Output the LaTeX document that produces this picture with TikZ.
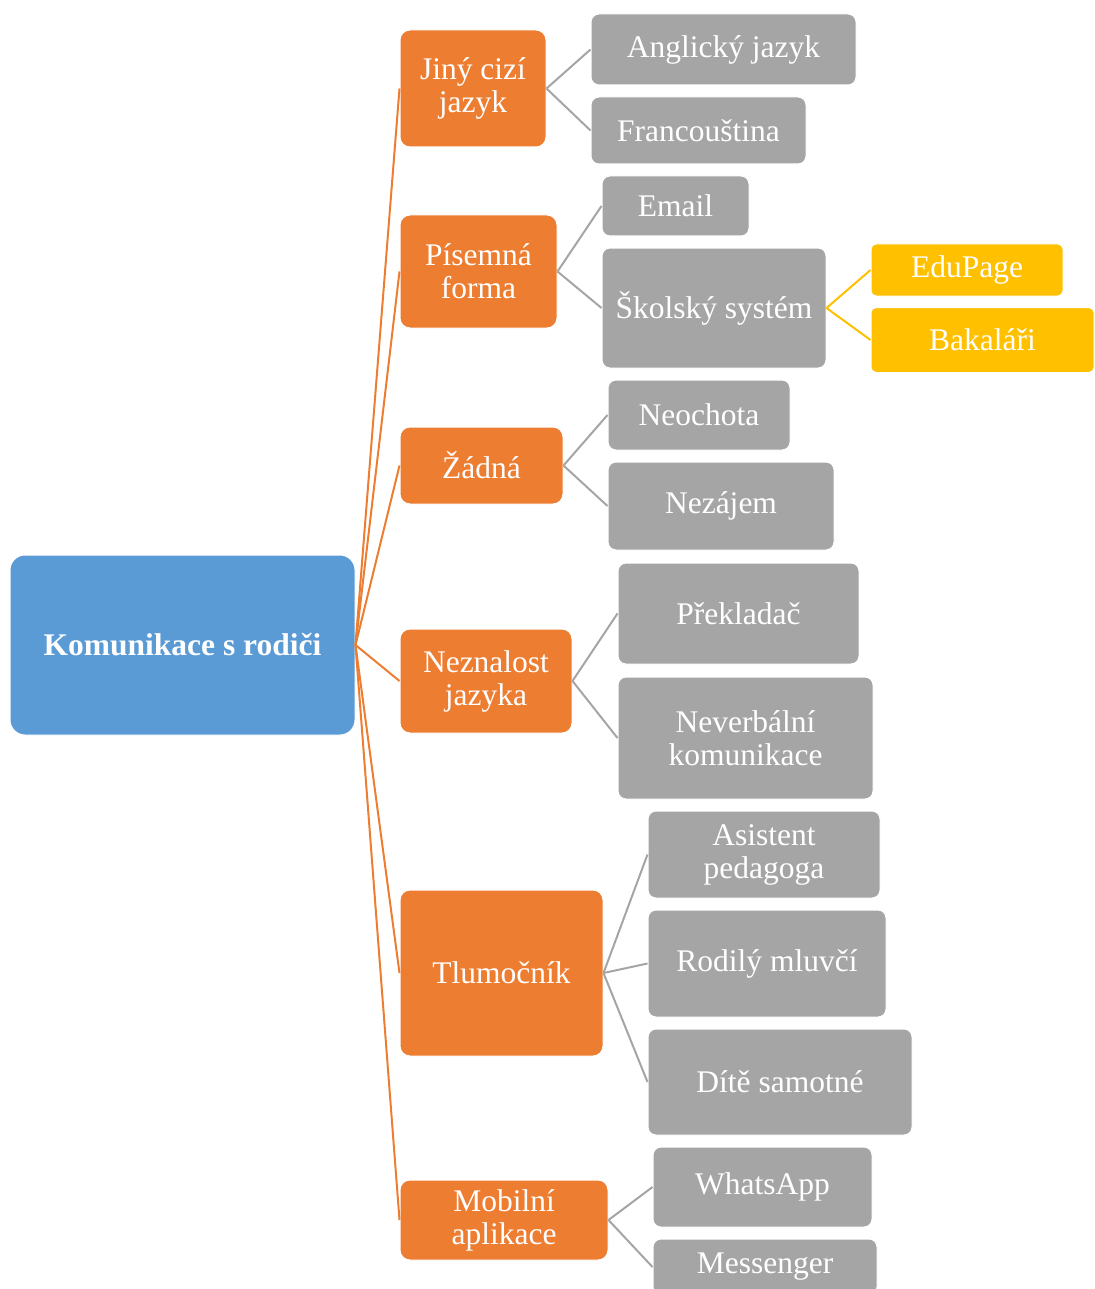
\documentclass[tikz,border=0pt]{standalone}
\usepackage{fontspec}
\setmainfont{Liberation Serif}
\usepackage{tikz}

\definecolor{rootblue}{HTML}{5B9BD5}
\definecolor{catorange}{HTML}{ED7D31}
\definecolor{leafgrey}{HTML}{A5A5A5}
\definecolor{appyellow}{HTML}{FFC000}

\tikzset{
  rootbox/.style={fill=rootblue, draw=white, line width=1pt, rounded corners=15pt, text=white, align=center, inner sep=0pt, font=\fontsize{31.5}{33}\selectfont\bfseries},
  catbox/.style={fill=catorange, draw=white, line width=1pt, rounded corners=10pt, text=white, align=center, inner sep=0pt, font=\fontsize{31.5}{33}\selectfont},
  leafbox/.style={fill=leafgrey, draw=white, line width=1pt, rounded corners=8pt, text=white, align=center, inner sep=0pt, font=\fontsize{31.5}{33}\selectfont},
  appbox/.style={fill=appyellow, draw=white, line width=1pt, rounded corners=5pt, text=white, align=center, inner sep=0pt, font=\fontsize{31.5}{33}\selectfont},
  catline/.style={draw=catorange, line width=2pt},
  leafline/.style={draw=leafgrey, line width=2pt},
  appline/.style={draw=appyellow, line width=2pt}
}

\begin{document}
\begin{tikzpicture}[x=1pt, y=-1pt]
\clip (0,0) rectangle (1094,1289);
\node[rootbox, minimum width=345pt, minimum height=180pt] (root) at (182.5,645) {Komunikace s rodiči};

\node[catbox, minimum width=146pt, minimum height=117pt] (jiny) at (473,88.5) {Jiný cizí\\jazyk};
\node[catbox, minimum width=157pt, minimum height=113pt] (pisemna) at (478.5,271.5) {Písemná\\forma};
\node[catbox, minimum width=163pt, minimum height=77pt] (zadna) at (481.5,465.5) {Žádná};
\node[catbox, minimum width=172pt, minimum height=104pt] (neznalost) at (486,681) {Neznalost\\jazyka};
\node[catbox, minimum width=203pt, minimum height=166pt] (tlumocnik) at (501.5,973) {Tlumočník};
\node[catbox, minimum width=208pt, minimum height=80pt] (mobilni) at (504,1220) {Mobilní\\aplikace};

\node[leafbox, minimum width=265pt, minimum height=71pt] (anglicky) at (723.5,49.5) {Anglický jazyk};
\node[leafbox, minimum width=215pt, minimum height=67pt] (francoustina) at (698.5,130.5) {Francouština};
\node[leafbox, minimum width=147pt, minimum height=60pt] (email) at (675.5,206) {Email};
\node[leafbox, minimum width=224pt, minimum height=120pt] (skolsky) at (714,308) {Školský systém};
\node[appbox, minimum width=192pt, minimum height=52pt] (edupage) at (967,270) {EduPage};
\node[appbox, minimum width=223pt, minimum height=65pt] (bakalari) at (982.5,340) {Bakaláři};
\node[leafbox, minimum width=182pt, minimum height=70pt] (neochota) at (699,415) {Neochota};
\node[leafbox, minimum width=226pt, minimum height=88pt] (nezajem) at (721,506) {Nezájem};
\node[leafbox, minimum width=241pt, minimum height=101pt] (prekladac) at (738.5,613.5) {Překladač};
\node[leafbox, minimum width=255pt, minimum height=122pt] (neverbalni) at (745.5,738) {Neverbální\\komunikace};
\node[leafbox, minimum width=232pt, minimum height=87pt] (asistent) at (764,854.5) {Asistent\\pedagoga};
\node[leafbox, minimum width=238pt, minimum height=107pt] (rodily) at (767,963.5) {Rodilý mluvčí};
\node[leafbox, minimum width=264pt, minimum height=106pt] (dite) at (780,1082) {Dítě samotné};
\node[leafbox, minimum width=219pt, minimum height=80pt] (whatsapp) at (762.5,1187) {WhatsApp};
\node[leafbox, minimum width=224pt, minimum height=56pt] (messenger) at (765,1267) {Messenger};

\draw[catline] (root.east) -- (jiny.west);
\draw[catline] (root.east) -- (pisemna.west);
\draw[catline] (root.east) -- (zadna.west);
\draw[catline] (root.east) -- (neznalost.west);
\draw[catline] (root.east) -- (tlumocnik.west);
\draw[catline] (root.east) -- (mobilni.west);

\draw[leafline] (jiny.east) -- (anglicky.west);
\draw[leafline] (jiny.east) -- (francoustina.west);
\draw[leafline] (pisemna.east) -- (email.west);
\draw[leafline] (pisemna.east) -- (skolsky.west);
\draw[appline] (skolsky.east) -- (edupage.west);
\draw[appline] (skolsky.east) -- (bakalari.west);
\draw[leafline] (zadna.east) -- (neochota.west);
\draw[leafline] (zadna.east) -- (nezajem.west);
\draw[leafline] (neznalost.east) -- (prekladac.west);
\draw[leafline] (neznalost.east) -- (neverbalni.west);
\draw[leafline] (tlumocnik.east) -- (asistent.west);
\draw[leafline] (tlumocnik.east) -- (rodily.west);
\draw[leafline] (tlumocnik.east) -- (dite.west);
\draw[leafline] (mobilni.east) -- (whatsapp.west);
\draw[leafline] (mobilni.east) -- (messenger.west);
\end{tikzpicture}
\end{document}
